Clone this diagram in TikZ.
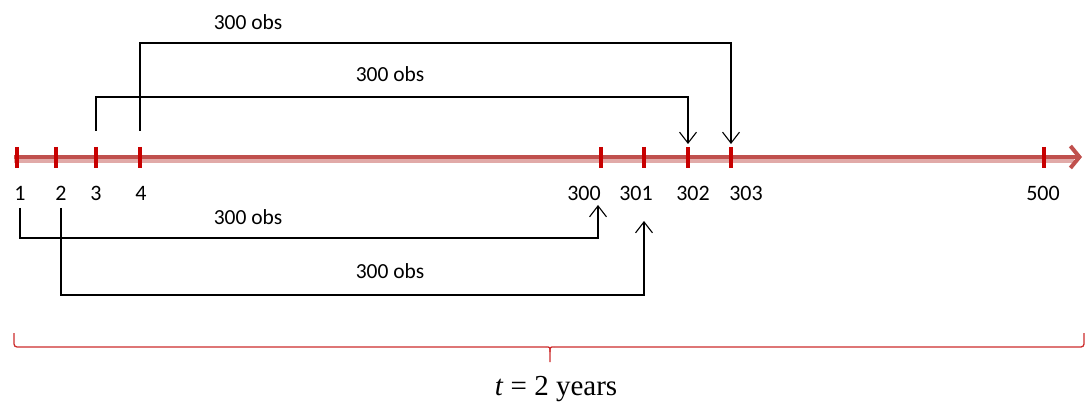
\documentclass[tikz,border=0pt]{standalone}
\usepackage{fontspec}
\setmainfont{Carlito}
\newfontfamily\serifx{Liberation Serif}
\usetikzlibrary{arrows.meta}
\definecolor{axisred}{RGB}{192,80,77}
\definecolor{axisshade}{RGB}{225,170,168}
\definecolor{tickred}{RGB}{200,0,0}
\definecolor{bracered}{RGB}{205,45,45}
\begin{document}
\begin{tikzpicture}[x=1pt,y=-1pt,
  tickmark/.style={tickred, line width=4pt},
  num/.style={font=\fontsize{22}{24}\selectfont, inner sep=0pt, anchor=center},
  obs/.style={font=\fontsize{21.5}{23}\selectfont, inner sep=0pt, anchor=center},
  conn/.style={black, line width=1.1pt, -{Straight Barb[length=11pt,width=17pt,line width=1.1pt]}},
  bracepath/.style={bracered, line width=1.3pt}
]
\useasboundingbox (0,0) rectangle (1086,403);
% axis
\draw[axisshade, line width=6pt] (14,160) -- (1074,160);
\draw[axisred, line width=4.5pt, -{Straight Barb[length=9pt,width=22pt,line width=4pt]}] (14,157) coordinate (axstart) -- (1082,157) coordinate (axend);
% ticks
\foreach \n/\x in {1/17,2/56,3/96,4/140,300/601,301/644,302/688,303/731,500/1044}{
  \coordinate (k\n) at (\x,157);
  \draw[tickmark] (\x,147) -- (\x,168);
}
% labels
\node[num] (l1) at (20,193) {1};
\node[num] (l2) at (61,193) {2};
\node[num] (l3) at (96,193) {3};
\node[num] (l4) at (141,193) {4};
\node[num] (l300) at (584,193) {300};
\node[num] (l301) at (636,193) {301};
\node[num] (l302) at (693,193) {302};
\node[num] (l303) at (746,193) {303};
\node[num] (l500) at (1043,193) {500};
% connector endpoints
\coordinate (s4) at (140,131);
\coordinate (s3) at (96,131);
\coordinate (e303) at (731,144);
\coordinate (e302) at (688,144);
\coordinate (s1) at (20,208);
\coordinate (s2) at (61,208);
\coordinate (e300) at (598,205);
\coordinate (e301) at (644,221);
\draw[conn] (s4) -- (s4 |- 0,43) -| (e303);
\draw[conn] (s3) -- (s3 |- 0,97) -| (e302);
\draw[conn] (s1) -- (s1 |- 0,238) -| (e300);
\draw[conn] (s2) -- (s2 |- 0,295) -| (e301);
\node[obs] (o1) at (248,22) {300 obs};
\node[obs] (o2) at (390,74) {300 obs};
\node[obs] (o3) at (248,217) {300 obs};
\node[obs] (o4) at (390,271) {300 obs};
% brace
\coordinate (bl) at (14,333);
\coordinate (br) at (1084,333);
\coordinate (bm) at (550,362);
\draw[bracepath, rounded corners=3pt] (bl) |- (546,347);
\draw[bracepath] (546,347) .. controls (550,347) .. (550,352) -- (bm);
\draw[bracepath, rounded corners=3pt] (br) |- (554,347);
\draw[bracepath] (554,347) .. controls (550,347) .. (550,352);
\node[font=\serifx\fontsize{29}{31}\selectfont, inner sep=0pt, anchor=base] (tlabel) at (556,395) {\textit{t}\hspace{0.25em}=\hspace{0.25em}2 years};
\end{tikzpicture}
\end{document}
